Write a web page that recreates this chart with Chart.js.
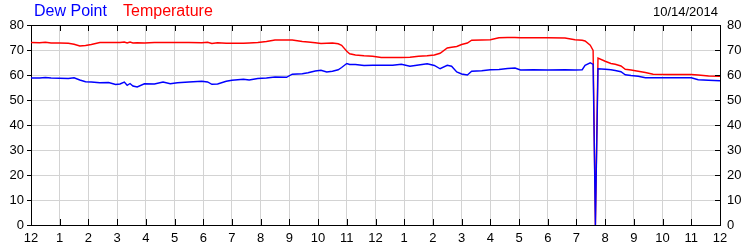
<!DOCTYPE html>
<html>
<head>
<meta charset="utf-8">
<script src="https://cdn.jsdelivr.net/npm/chart.js@4.4.1/dist/chart.umd.min.js"></script>
<style>
	body{margin:0;background:#fff;}
	#wrap{width:750px;height:250px;}
</style>
</head>
<body>
<div id="wrap"><canvas id="chart" width="750" height="250"></canvas></div>
<script>
// hours since midnight, 10/14/2014
let hours = [0.0,0.3,0.5,0.7,1.0,1.3,1.5,1.7,1.9,2.1,2.4,2.7,2.95,3.1,3.25,3.35,3.45,3.55,3.7,3.95,
	4.3,4.6,4.85,5.1,5.5,5.95,6.15,6.3,6.5,6.8,7.0,7.4,7.6,7.9,8.2,8.5,8.9,9.1,9.45,9.65,9.9,
	10.1,10.3,10.5,10.7,10.82,11.0,11.1,11.3,11.6,11.9,12.2,12.6,12.9,13.2,13.5,13.8,14.05,14.25,
	14.5,14.65,14.83,15.0,15.2,15.35,15.7,16.0,16.3,16.6,16.86,17.05,17.5,18.0,18.6,18.95,19.2,
	19.3,19.48,19.58,19.66,19.75,20.0,20.2,20.35,20.55,20.7,20.9,21.15,21.4,21.67,22.2,22.6,23.0,
	23.24,23.6,24.0];

let temperature = [73.0,72.9,73.1,72.8,72.8,72.7,72.3,71.6,71.8,72.2,73.0,73.0,73.0,73.0,73.2,72.8,73.2,72.8,72.9,72.8,
	73.0,73.0,73.0,73.0,73.0,72.9,73.1,72.6,72.9,72.7,72.7,72.7,72.8,73.0,73.4,74.0,74.0,74.0,73.4,73.2,72.9,
	72.6,72.7,72.8,72.5,71.9,69.5,68.5,68.0,67.7,67.5,67.0,67.0,67.0,67.1,67.5,67.7,68.0,68.7,
	70.8,71.1,71.4,72.2,72.8,73.9,74.0,74.1,74.9,75.0,75.0,74.9,74.9,74.9,74.8,74.1,73.9,
	73.6,71.9,69.8,0,66.8,65.5,64.6,64.3,63.6,62.3,62.0,61.5,61.0,60.3,60.2,60.2,60.2,
	60.0,59.6,59.5];

let dewPoint = [58.8,58.8,59.0,58.8,58.7,58.6,58.9,58.0,57.3,57.2,56.9,57.0,56.2,56.4,57.2,55.9,56.6,55.6,55.2,56.5,
	56.4,57.2,56.5,56.9,57.2,57.5,57.2,56.3,56.4,57.5,57.9,58.3,58.0,58.6,58.8,59.2,59.1,60.3,60.5,60.9,61.6,
	61.9,61.2,61.5,62.1,63.0,64.6,64.2,64.2,63.8,63.9,63.9,63.9,64.3,63.5,64.0,64.5,63.8,62.5,
	63.9,63.5,61.2,60.4,60.0,61.5,61.7,62.1,62.2,62.6,62.8,62.0,62.1,62.0,62.1,62.0,62.1,
	63.9,64.9,64.2,0,62.5,62.3,62.1,61.8,61.3,60.1,59.8,59.5,58.9,58.9,58.9,58.9,58.9,
	58.1,57.9,57.7];

let hourLabels = ['12','1','2','3','4','5','6','7','8','9','10','11','12','1','2','3','4','5','6','7','8','9','10','11','12'];
let yTicks = [0,10,20,30,40,50,60,70,80];

let fontFamily = '"Liberation Sans", Arial, sans-serif';

function toPoints(values){
	return hours.map(function(h, i){
		return {x: h, y: values[i]};
	});
}

let headerPlugin = {
	id: 'header',
	afterDraw: function(chart){
		let ctx = chart.ctx;
		ctx.save();
		ctx.textBaseline = 'middle';
		ctx.font = '16px ' + fontFamily;
		ctx.textAlign = 'left';
		ctx.fillStyle = '#0000ff';
		ctx.fillText('Dew Point', 34, 12);
		ctx.fillStyle = '#ff0000';
		ctx.fillText('Temperature', 123, 12);
		ctx.font = '13px ' + fontFamily;
		ctx.textAlign = 'right';
		ctx.fillStyle = '#000';
		ctx.fillText('10/14/2014', 718, 12);
		ctx.restore();
	}
};

// short tick marks pointing into the plot, like the original
let innerTicks = {
	id: 'innerTicks',
	afterDraw: function(chart){
		let ctx = chart.ctx;
		let area = chart.chartArea;
		let x = chart.scales.x;
		let y2 = chart.scales.y2;
		ctx.save();
		ctx.strokeStyle = '#000';
		ctx.lineWidth = 1;
		ctx.beginPath();
		x.ticks.forEach(function(t){
			let px = Math.round(x.getPixelForValue(t.value)) + 0.5;
			ctx.moveTo(px, area.bottom);
			ctx.lineTo(px, area.bottom - 6);
			ctx.moveTo(px, area.top);
			ctx.lineTo(px, area.top + 6);
		});
		y2.ticks.forEach(function(t){
			let py = Math.round(y2.getPixelForValue(t.value)) + 0.5;
			ctx.moveTo(area.right, py);
			ctx.lineTo(area.right - 5, py);
		});
		ctx.stroke();
		ctx.restore();
	}
};

function yAxis(position, width, onArea){
	return {
		type: 'linear',
		position: position,
		min: yTicks[0],
		max: yTicks[yTicks.length - 1],
		afterFit: function(scale){ scale.width = width; },
		afterBuildTicks: function(scale){
			scale.ticks = yTicks.map(function(v){ return {value: v}; });
		},
		ticks: {
			color: '#000',
			font: {family: fontFamily, size: 13},
			padding: onArea ? 3 : 7
		},
		grid: {
			color: '#d3d3d3',
			drawOnChartArea: onArea,
			drawTicks: onArea,
			tickColor: '#000',
			tickLength: 4
		},
		border: {color: '#000', width: 1}
	};
}

let ctx = document.getElementById('chart');

new Chart(ctx, {
	type: 'line',
	data: {
		datasets: [{
			label: 'Dew Point',
			data: toPoints(dewPoint),
			borderColor: '#0000ff',
			borderWidth: 1.4,
			pointRadius: 0,
			tension: 0,
			order: 0
		},{
			label: 'Temperature',
			data: toPoints(temperature),
			borderColor: '#ff0000',
			borderWidth: 1.4,
			pointRadius: 0,
			tension: 0,
			order: 1
		}]
	},
	options: {
		responsive: false,
		animation: false,
		layout: {padding: {top: 25, left: 0, right: 0, bottom: 0}},
		plugins: {
			legend: {display: false},
			tooltip: {enabled: false}
		},
		scales: {
			x: {
				type: 'linear',
				position: 'bottom',
				min: 0,
				max: 24,
				afterFit: function(scale){ scale.height = 25; },
				ticks: {
					stepSize: 1,
					autoSkip: false,
					maxRotation: 0,
					color: '#000',
					font: {family: fontFamily, size: 13},
					padding: 6,
					callback: function(v){ return hourLabels[v]; }
				},
				grid: {
					color: '#d3d3d3',
					drawTicks: false
				},
				border: {color: '#000', width: 1}
			},
			xTop: {
				type: 'linear',
				position: 'top',
				min: 0,
				max: 24,
				afterFit: function(scale){ scale.height = 0; },
				ticks: {display: false},
				grid: {drawOnChartArea: false, drawTicks: false},
				border: {color: '#000', width: 1}
			},
			y: yAxis('left', 31, true),
			y2: yAxis('right', 30, false)
		}
	},
	plugins: [headerPlugin, innerTicks]
});
</script>
</body>
</html>
